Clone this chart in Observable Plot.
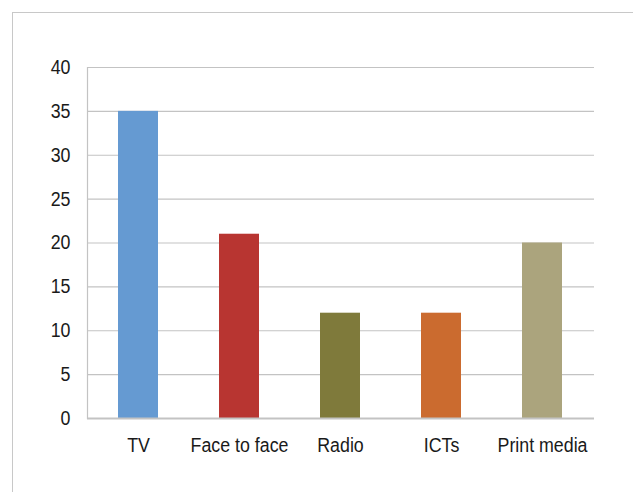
<!DOCTYPE html>
<html>
<head>
<meta charset="utf-8">
<script src="https://cdn.jsdelivr.net/npm/d3@7"></script>
<script src="https://cdn.jsdelivr.net/npm/@observablehq/plot@0.6"></script>
<style>
  body { margin: 0; background: #fff; }
  #wrap { position: relative; width: 633px; height: 492px; overflow: hidden; background: #fff; }
  #frame { position: absolute; left: 12px; top: 12px; width: 700px; height: 600px;
           border-left: 1.5px solid #c8c8c8; border-top: 1.5px solid #c8c8c8; }
  #chart { position: absolute; left: 0; top: 0; }
</style>
</head>
<body>
<div id="wrap"><div id="frame"></div><div id="chart"></div></div>
<script>
const categories = ["TV", "Face to face", "Radio", "ICTs", "Print media"];
const values = [35, 21, 12, 12, 20];
const barColors = ["#659ad2", "#b83531", "#7f7a3b", "#cb6b2f", "#aba47d"];
const yTicks = [0, 5, 10, 15, 20, 25, 30, 35, 40];

const data = categories.map((c, i) => ({category: c, value: values[i]}));

const plot = Plot.plot({
  width: 633,
  height: 492,
  marginLeft: 87,
  marginRight: 39,
  marginTop: 67,
  marginBottom: 74,
  style: {
    fontFamily: "'Liberation Sans', Arial, sans-serif",
    fontSize: "20px",
    color: "#1a1a1a",
    background: "transparent"
  },
  x: {domain: categories, paddingInner: 0.6, paddingOuter: 0.3, label: null},
  y: {domain: [0, 40], label: null},
  color: {domain: categories, range: barColors},
  marks: [
    Plot.gridY(yTicks, {stroke: "#c3c3c3", strokeOpacity: 1, strokeWidth: 1.2}),
    Plot.frame({anchor: "left", stroke: "#c3c3c3", strokeWidth: 1.2}),
    Plot.barY(data, {x: "category", y: "value", fill: "category"}),
    Plot.ruleY([0], {stroke: "#c3c3c3", strokeWidth: 2}),
    Plot.axisY(yTicks, {tickSize: 0, tickPadding: 17, fill: "#1a1a1a", label: null, ariaLabel: "y-axis"}),
    Plot.axisX({tickSize: 0, tickPadding: 19, fill: "#1a1a1a", label: null, ariaLabel: "x-axis"})
  ]
});

// narrow the axis lettering horizontally to match the condensed look of the original
d3.select(plot).selectAll("g[aria-label='y-axis tick label'] text, g[aria-label='x-axis tick label'] text, g[aria-label$='tick label'] text")
  .each(function() {
    const t = this.getAttribute("transform") || "";
    if (!t.includes("scale")) this.setAttribute("transform", t + " scale(0.89,1)");
  });

document.getElementById("chart").appendChild(plot);
</script>
</body>
</html>
